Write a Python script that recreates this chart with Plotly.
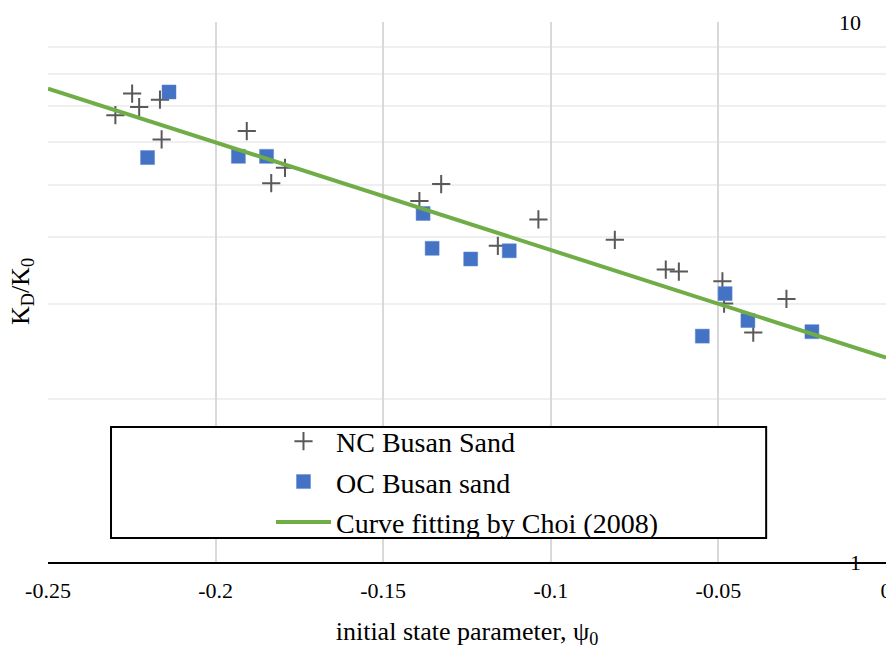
import plotly.graph_objects as go

# NC Busan Sand (+)
nc_psi = [-0.2299, -0.2249, -0.2228, -0.2166, -0.2161, -0.1907, -0.1834, -0.1793,
          -0.1392, -0.1327, -0.1158, -0.1037, -0.0809, -0.0657, -0.0618, -0.0488,
          -0.0483, -0.0396, -0.0297]
nc_k = [6.72, 7.37, 6.96, 7.18, 6.06, 6.28, 5.03, 5.37,
        4.66, 5.01, 3.85, 4.31, 3.95, 3.48, 3.45, 3.31,
        3.01, 2.66, 3.07]

# OC Busan sand (squares)
oc_psi = [-0.2203, -0.2139, -0.1932, -0.1848, -0.1381, -0.1354, -0.1239, -0.1124,
          -0.0548, -0.0480, -0.0412, -0.0221]
oc_k = [5.61, 7.42, 5.64, 5.64, 4.42, 3.81, 3.64, 3.77,
        2.62, 3.14, 2.80, 2.67]

# Curve fitting by Choi (2008): end points
fit_psi = [-0.25, 0.0]
fit_k = [7.53, 2.39]

x_ticks = [-0.25, -0.2, -0.15, -0.1, -0.05, 0]
x_ticktext = ["-0.25", "-0.2", "-0.15", "-0.1", "-0.05", "0"]
y_major = [1, 10]
y_minor = [2, 3, 4, 5, 6, 7, 8, 9]

FONT = "Liberation Serif, Times New Roman, Tinos, serif"

fig = go.Figure()
fig.add_trace(go.Scatter(
    x=nc_psi, y=nc_k, mode="markers", name="NC Busan Sand",
    legendgroup="a",
    marker=dict(symbol="cross-thin", size=13, color="#595959",
                line=dict(color="#595959", width=2)),
))
fig.add_trace(go.Scatter(
    x=oc_psi, y=oc_k, mode="markers", name="OC Busan sand",
    legendgroup="b",
    marker=dict(symbol="square", size=14, color="#4472C4",
                line=dict(color="#5B86D0", width=0.5)),
))
fig.add_trace(go.Scatter(
    x=fit_psi, y=fit_k, mode="lines", name="Curve fitting by Choi (2008)",
    legendgroup="c",
    line=dict(color="#70AD47", width=4),
))

fig.update_layout(
    width=886, height=655,
    margin=dict(l=48, r=0, t=22, b=93, autoexpand=False),
    paper_bgcolor="white", plot_bgcolor="white",
    font=dict(family=FONT, color="black", size=22),
    showlegend=True,
    legend=dict(
        x=0.2661, y=0.2694, xanchor="left", yanchor="top",
        bgcolor="rgba(0,0,0,0)", borderwidth=0,
        font=dict(family=FONT, size=28, color="black"),
        itemwidth=55, tracegroupgap=1,
    ),
    xaxis=dict(
        range=[-0.25, 0], tickvals=x_ticks, ticktext=x_ticktext,
        automargin=False,
        showgrid=True, gridcolor="#D9D9D9", gridwidth=2,
        showline=True, linecolor="black", linewidth=2,
        zeroline=False, ticks="", ticklabelstandoff=8,
        ticklabeloverflow="allow",
        tickfont=dict(family=FONT, size=22, color="black"),
        title=dict(text="initial state parameter, ψ<sub>0</sub>",
                   font=dict(family=FONT, size=26, color="black"), standoff=19),
    ),
    yaxis=dict(
        type="log", range=[0, 1], side="right", automargin=False,
        tickvals=y_major, ticktext=["1", "10"],
        ticklabelposition="inside", ticklabeloverflow="allow",
        ticklabelstandoff=22, ticks="",
        showgrid=True, gridcolor="#D9D9D9", gridwidth=2,
        showline=False, zeroline=False,
        tickfont=dict(family=FONT, size=22, color="black"),
        minor=dict(tickvals=y_minor, showgrid=True, gridcolor="#EFEFEF", gridwidth=2, ticks=""),
    ),
    shapes=[
        dict(type="rect", xref="paper", yref="paper", x0=0.0752, x1=0.857, y0=0.0444, y1=0.25,
             line=dict(color="black", width=2), fillcolor="white", layer="above"),
    ],
    annotations=[
        dict(text="K<sub>D</sub>/K<sub>0</sub>", xref="paper", yref="paper",
             x=-0.031, y=0.5, xanchor="center", yanchor="middle", textangle=-90,
             showarrow=False, font=dict(family=FONT, size=26, color="black")),
    ],
)

fig.write_html("out.html", config={"displayModeBar": False},
               post_script="document.body.style.margin='0';")
